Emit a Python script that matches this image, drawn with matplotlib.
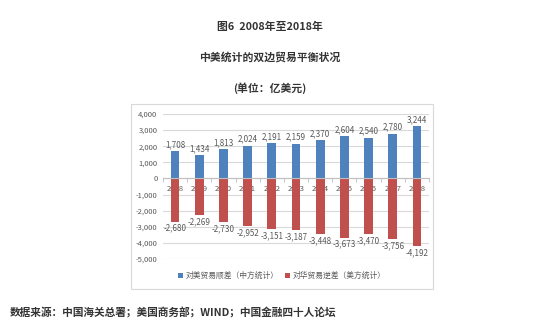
import numpy as np
import matplotlib.pyplot as plt
from matplotlib.patches import Rectangle

plt.rcParams['font.family'] = ['Noto Sans CJK SC', 'DejaVu Sans']

# --- данные ---
years = ['2008', '2009', '2010', '2011', '2012', '2013', '2014', '2015', '2016', '2017', '2018']
china_stat = [1708, 1434, 1813, 2024, 2191, 2159, 2370, 2604, 2540, 2780, 3244]
us_stat = [-2680, -2269, -2730, -2952, -3151, -3187, -3448, -3673, -3470, -3756, -4192]
series_names = ['对美贸易顺差（中方统计）', '对华贸易逆差（美方统计）']

blue = '#4F81BD'
red = '#C0504D'
grey = '#595959'

fig = plt.figure(figsize=(5.5, 3.29), dpi=100)
fig.patch.set_facecolor('white')

# рамка вокруг диаграммы
fig.patches.append(Rectangle((131 / 550, 1 - 289 / 329), 302 / 550, 185 / 329,
                             transform=fig.transFigure, fill=False,
                             edgecolor='#D9D9D9', linewidth=0.8))

ax = fig.add_axes([163 / 550, 1 - 259 / 329, 266 / 550, 145 / 329])
x = np.arange(len(years))
w = 0.36
ax.bar(x, china_stat, width=w, color=blue, label=series_names[0], zorder=3)
ax.bar(x, us_stat, width=w, color=red, label=series_names[1], zorder=3)

ax.set_xlim(-0.5, len(years) - 0.5)
ax.set_ylim(-5000, 4000)
ax.set_yticks(np.arange(-5000, 4001, 1000))
ax.set_yticklabels([f'{v:,}' for v in range(-5000, 4001, 1000)])
ax.grid(axis='y', color='#D9D9D9', linewidth=0.8, zorder=0)
ax.tick_params(axis='y', length=0, labelsize=5.5, labelcolor=grey, pad=4)

for s in ['top', 'right', 'left']:
    ax.spines[s].set_visible(False)
ax.spines['bottom'].set_position(('data', 0))
ax.spines['bottom'].set_color('#BFBFBF')
ax.spines['bottom'].set_linewidth(0.8)
ax.spines['bottom'].set_zorder(4)
ax.set_xticks(x)
ax.set_xticklabels(years)
ax.set_xticks(np.arange(-0.5, len(years), 1), minor=True)
ax.tick_params(axis='x', which='major', length=0, labelsize=5.5, labelcolor=grey, pad=5)
ax.tick_params(axis='x', which='minor', length=3, color='#BFBFBF', direction='out')
for lbl in ax.get_xticklabels():
    lbl.set_zorder(5)

for xi, v in zip(x, china_stat):
    ax.annotate(f'{v:,}', (xi, v), xytext=(0, 1.5), textcoords='offset points',
                ha='center', va='bottom', fontsize=5.8, color=grey)
for xi, v in zip(x, us_stat):
    ax.annotate(f'{v:,}', (xi, v), xytext=(0, -1.5), textcoords='offset points',
                ha='center', va='top', fontsize=5.8, color=grey)

fig.legend(loc='center', bbox_to_anchor=(282 / 550, 1 - 276 / 329), ncol=2,
           frameon=False, fontsize=5.6, handlelength=0.6, handleheight=0.6,
           handletextpad=0.4, columnspacing=0.8, labelcolor=grey)

# заголовки
title_kw = dict(ha='center', va='center', fontsize=7.8, fontweight='bold', color='#333333')
fig.text(270 / 550, 1 - 27 / 329, '图6  2008年至2018年', **title_kw)
fig.text(270 / 550, 1 - 57 / 329, '中美统计的双边贸易平衡状况', **title_kw)
fig.text(270 / 550, 1 - 88 / 329, '(单位：亿美元)', **title_kw)
fig.text(10 / 550, 1 - 313 / 329, '数据来源：中国海关总署；美国商务部；WIND；中国金融四十人论坛',
         ha='left', va='center', fontsize=7.7, fontweight='bold', color='#333333')

fig.savefig('out.png', dpi=100)
